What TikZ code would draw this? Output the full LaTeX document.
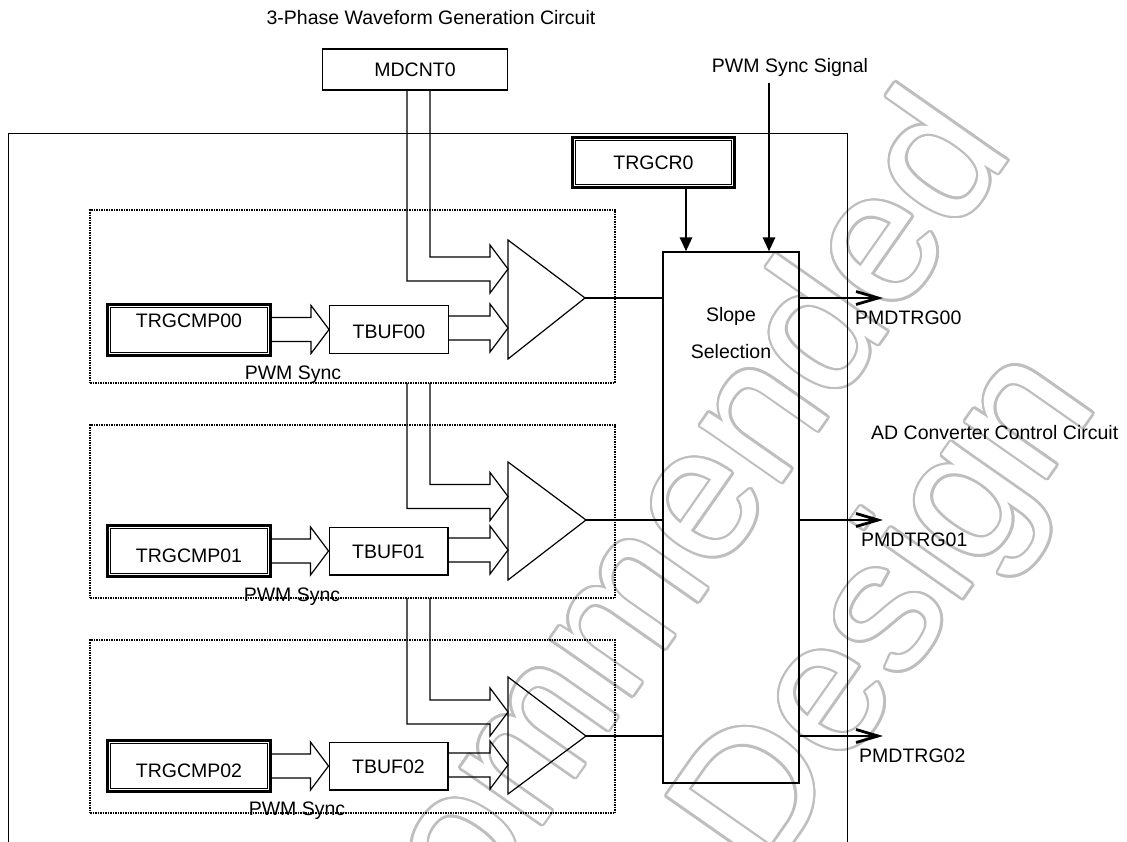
\documentclass[tikz,border=0pt]{standalone}
\usepackage{fontspec}
\setmainfont{Liberation Sans}
\usetikzlibrary{calc,arrows.meta}
\definecolor{wmgray}{RGB}{190,190,190}
% hollow (double-line) arrow: #1 gives start x, #2 is the tip
\newcommand\hollowarr[2]{%
  \draw[thinl] ($(#1 |- #2)+(0,-12)$) -- ($(#2)+(-18,-12)$) -- ($(#2)+(-18,-24)$) -- (#2)
     -- ($(#2)+(-18,24)$) -- ($(#2)+(-18,12)$) -- ($(#1 |- #2)+(0,12)$);}
% bent bus arrow: #1 upper line top, #2 lower line top, #3 tip
\newcommand\busarr[3]{%
  \draw[thinl] (#1) |- ($(#3)+(-18,-12)$) -- ($(#3)+(-18,-24)$) -- (#3)
     -- ($(#3)+(-18,24)$) -- ($(#3)+(-18,12)$) -| (#2);}
\begin{document}
\begin{tikzpicture}[x=1pt,y=-1pt,
  lbl/.style={font=\fontsize{19.5}{23}\selectfont, inner sep=0pt, anchor=base},
  thinl/.style={line width=1.2pt, line join=miter},
  thickl/.style={line width=2.8pt},
  plainbox/.style={draw, line width=1.2pt, inner sep=0pt},
  dblbox/.style={draw, line width=2.8pt, inner sep=0pt},
  innerl/.style={line width=1pt},
  grpbox/.style={draw, line width=1.5pt, dash pattern=on 1.5pt off 1pt, inner sep=0pt},
  wm/.style={font=\fontsize{188}{216}\selectfont, inner sep=0pt, anchor=base east, rotate=55},
  outarr/.style={thickl, -{Straight Barb[length=22pt,width=13pt]}},
  downarr/.style={thickl, -{Triangle[length=14pt,width=12pt]}},
]
\useasboundingbox (0,0) rectangle (1127,842);
\clip (0,0) rectangle (1127,842);

% ---------- watermark (outlined text) ----------
\foreach \ang [count=\i] in {0,22.5,...,337.5}{
  \node[wm, text=wmgray, shift={(\ang:2.4pt)}] (wa\i) at (1015,150) {Not Recommended};
  \node[wm, text=wmgray, shift={(\ang:2.4pt)}] (wb\i) at (1100,403) {for New Design};
}
\node[wm, text=white] (wmA) at (1015,150) {Not Recommended};
\node[wm, text=white] (wmB) at (1100,403) {for New Design};

% ---------- frames ----------
\node[plainbox, anchor=north west, minimum width=839, minimum height=800] (outer) at (8,133) {};
\node[grpbox, minimum width=525, minimum height=173] (grp1) at (352.5,296.5) {};
\node[grpbox, minimum width=525, minimum height=173] (grp2) at (352.5,511.5) {};
\node[grpbox, minimum width=525, minimum height=173] (grp3) at (352.5,726.5) {};

% ---------- boxes ----------
\node[plainbox, minimum width=185, minimum height=41] (mdc) at (415,69.5) {};
\node[dblbox, minimum width=162.4, minimum height=50.4] (trgcr) at (653.5,162.5) {};
\draw[innerl] ($(trgcr.south west)+(4.7,-4.7)$) rectangle ($(trgcr.north east)+(-4.7,4.7)$);
\node[plainbox, minimum width=136, minimum height=531] (slope) at (731,517.5) {};

\node[dblbox, minimum width=163.2, minimum height=51.2] (cmp1) at (189,330) {};
\node[dblbox, minimum width=163.2, minimum height=51.2] (cmp2) at (189,551) {};
\node[dblbox, minimum width=163.2, minimum height=51.2] (cmp3) at (189,766) {};
\foreach \n in {cmp1,cmp2,cmp3}{
  \draw[innerl] ($(\n.south west)+(4.7,-4.7)$) rectangle ($(\n.north east)+(-4.7,4.7)$);
}
\node[plainbox, minimum width=118.8, minimum height=47.8] (tb1) at (389,329.5) {};
\node[plainbox, minimum width=118.8, minimum height=47.8] (tb2) at (388.5,551) {};
\node[plainbox, minimum width=118.8, minimum height=47.8] (tb3) at (388.5,766) {};

% ---------- comparators (triangles) ----------
\coordinate (t1top) at (508,240); \coordinate (t1bot) at (508,359); \coordinate (t1apex) at (585,298);
\coordinate (t2top) at (508,462); \coordinate (t2bot) at (508,580); \coordinate (t2apex) at (586,520);
\coordinate (t3top) at (508,677); \coordinate (t3bot) at (508,794); \coordinate (t3apex) at (586,736);
\draw[thinl] (t1top) -- (t1apex) -- (t1bot) -- cycle;
\draw[thinl] (t2top) -- (t2apex) -- (t2bot) -- cycle;
\draw[thinl] (t3top) -- (t3apex) -- (t3bot) -- cycle;

% ---------- texts ----------
\node[lbl] (title) at (431,25) {3-Phase Waveform Generation Circuit};
\node[lbl] (mdct) at (415,76.5) {MDCNT0};
\node[lbl] (pwmsigt) at (790,73) {PWM Sync Signal};
\node[lbl] (trgcrt) at (653.5,169.5) {TRGCR0};
\node[lbl] (cmp1t) at (189,327) {TRGCMP00};
\node[lbl] (cmp2t) at (189,562) {TRGCMP01};
\node[lbl] (cmp3t) at (189,777) {TRGCMP02};
\node[lbl] (tb1t) at (389,338.5) {TBUF00};
\node[lbl] (tb2t) at (388.5,558) {TBUF01};
\node[lbl] (tb3t) at (388.5,773) {TBUF02};
\node[lbl] (sl1) at (731,322) {Slope};
\node[lbl] (sl2) at (731,358) {Selection};
\node[lbl] (ps1) at (293,379) {PWM Sync};
\node[lbl] (ps2) at (292,601) {PWM Sync};
\node[lbl] (ps3) at (297,815) {PWM Sync};
\node[lbl, anchor=base west] (o1t) at (855,324) {PMDTRG00};
\node[lbl, anchor=base west] (o2t) at (861,546) {PMDTRG01};
\node[lbl, anchor=base west] (o3t) at (859,762) {PMDTRG02};
\node[lbl, anchor=base west] (adt) at (871,439) {AD Converter Control Circuit};

% ---------- bus connectors ----------
\coordinate (m1r) at (430,90);  \coordinate (m1l) at (407,90);
\coordinate (b2r) at (430,383); \coordinate (b2l) at (407,383);
\coordinate (b3r) at (430,598); \coordinate (b3l) at (407,598);
\coordinate (k1) at (508,269); \coordinate (k2) at (508,496.5); \coordinate (k3) at (508,712);
\coordinate (q1) at (508,328); \coordinate (q2) at (508,550); \coordinate (q3) at (508,765);
\busarr{m1r}{m1l}{k1}
\busarr{b2r}{b2l}{k2}
\busarr{b3r}{b3l}{k3}
\hollowarr{cmp1.east}{tb1.west}
\hollowarr{cmp2.east}{tb2.west}
\hollowarr{cmp3.east}{tb3.west}
\hollowarr{tb1.east}{q1}
\hollowarr{tb2.east}{q2}
\hollowarr{tb3.east}{q3}

% ---------- signal lines ----------
\draw[thickl] (t1apex) -- (slope.west |- t1apex);
\draw[thickl] (t2apex) -- (slope.west |- t2apex);
\draw[thickl] (t3apex) -- (slope.west |- t3apex);
\coordinate (o1) at (883,298); \coordinate (o2) at (883,520); \coordinate (o3) at (883,736);
\draw[outarr] (slope.east |- o1) -- (o1);
\draw[outarr] (slope.east |- o2) -- (o2);
\draw[outarr] (slope.east |- o3) -- (o3);
\coordinate (pwmtop) at (769,83);
\coordinate (crx) at (686,188);
\draw[downarr] (pwmtop) -- (slope.north -| pwmtop);
\draw[downarr] (crx) -- (slope.north -| crx);
\end{tikzpicture}
\end{document}
